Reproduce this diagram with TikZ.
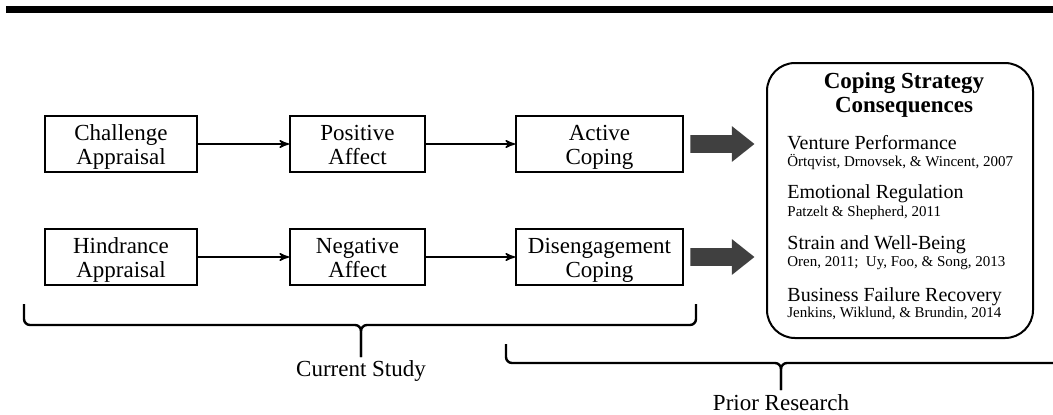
\documentclass[tikz,border=0pt]{standalone}
\usepackage{fontspec}
\setmainfont{Liberation Serif}
\usepackage{tikz}
\usetikzlibrary{shapes.geometric,shapes.arrows,arrows,positioning}
\definecolor{arrowgray}{HTML}{404040}
\newcommand{\topgap}{\rule{0pt}{12.4pt}}
\tikzset
{
    stagebox/.style   = {rectangle, draw=black, line width=1pt, align=center, minimum height=28pt, inner xsep=1pt, inner ysep=0pt, font=\fontsize{11.5}{12}\selectfont},
    link/.style       = {->, line width=0.75pt},
    fatarrow/.style   = {single arrow, fill=arrowgray, draw=none, minimum height=32pt, inner xsep=0pt, inner ysep=4.25pt, single arrow head extend=4.5pt, single arrow tip angle=77},
    resultbox/.style  = {rectangle, draw=black, line width=1pt, rounded corners=14pt, minimum width=133pt, minimum height=137.5pt},
    resulthead/.style = {align=center, inner sep=0pt, font=\fontsize{11.5}{12}\selectfont\bfseries},
    outcome/.style    = {anchor=west, inner sep=0pt, font=\fontsize{10}{11}\selectfont},
    outcomeref/.style = {anchor=west, inner sep=0pt, font=\fontsize{7.5}{9}\selectfont},
    bracket/.style    = {draw=black, line width=1.2pt, rounded corners=3pt},
    bracelabel/.style = {inner sep=0pt, font=\fontsize{11.5}{12}\selectfont}
}

\begin{document}
\begin{tikzpicture}[x=0.5pt, y=-0.5pt, >=stealth']
    \useasboundingbox (0,0) rectangle (1053,414);
    \fill (6,6) rectangle (1053,13);

    % current study: appraisal -> affect -> coping
    \node [stagebox, minimum width=76pt] (chal) at (121,144) {\topgap Challenge\\Appraisal\strut};
    \node [stagebox, minimum width=67.5pt, right=45.5pt of chal] (pos) {\topgap Positive\\Affect\strut};
    \node [stagebox, minimum width=83.5pt, right=44.5pt of pos] (act) {\topgap Active\\Coping\strut};
    \node [stagebox, minimum width=76pt, below=27.5pt of chal] (hind) {\topgap Hindrance\\Appraisal\strut};
    \node [stagebox, minimum width=67.5pt, below=27.5pt of pos] (neg) {\topgap Negative\\Affect\strut};
    \node [stagebox, minimum width=83.5pt, below=27.5pt of act] (dis) {\topgap Disengagement\\Coping\strut};

    \draw [link] (chal) -- (pos);
    \draw [link] (pos) -- (act);
    \draw [link] (hind) -- (neg);
    \draw [link] (neg) -- (dis);

    \node [fatarrow, right=3pt of act] (actout) {};
    \node [fatarrow, right=3pt of dis] (disout) {};

    % prior research
    \node [resultbox] (cons) at (900,200.5) {};
    \node [resulthead] (conshead) at (904,95) {Coping Strategy\\Consequences};
    \node [outcome] (perf) at (787,143) {Venture Performance};
    \node [outcomeref] (perfref) at (787,162) {Örtqvist, Drnovsek, \& Wincent, 2007};
    \node [outcome] (emo) at (787,194) {Emotional Regulation};
    \node [outcomeref] (emoref) at (787,213) {Patzelt \& Shepherd, 2011};
    \node [outcome] (strain) at (787,245) {Strain and Well-Being};
    \node [outcomeref] (strainref) at (787,263) {Oren, 2011;\ \ Uy, Foo, \& Song, 2013};
    \node [outcome] (fail) at (787,297) {Business Failure Recovery};
    \node [outcomeref] (failref) at (787,313) {Jenkins, Wiklund, \& Brundin, 2014};

    % braces
    \coordinate (curL) at (24,304);
    \coordinate (curR) at (696,304);
    \coordinate (curtip) at (361,357);
    \draw [bracket] (curL) |- (361,325) -- (curtip);
    \draw [bracket] (curtip) -- (361,325) -| (curR);
    \node [bracelabel] (cur) at (361,371) {Current Study};

    \coordinate (priL) at (506,344);
    \coordinate (priR) at (1053,363);
    \coordinate (pritip) at (781,390);
    \draw [bracket] (priL) |- (781,363) -- (pritip);
    \draw [bracket] (pritip) -- (781,363) -- (priR);
    \node [bracelabel] (prior) at (781,403) {Prior Research};
\end{tikzpicture}
\end{document}
